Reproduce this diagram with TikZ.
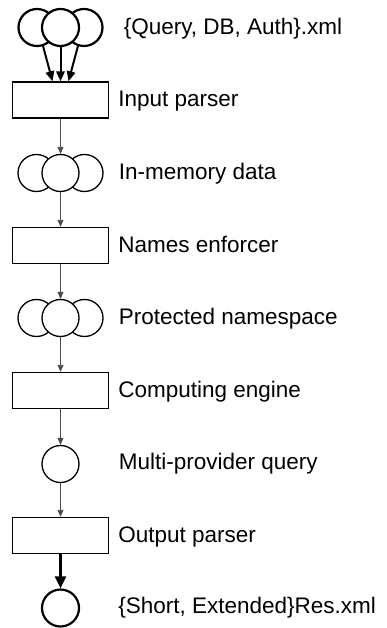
\documentclass[tikz,border=0pt]{standalone}
\usepackage{fontspec}
\setmainfont{Liberation Sans}
\usetikzlibrary{arrows.meta,calc}
\begin{document}
\begin{tikzpicture}[x=1pt,y=-1pt,
  box/.style={draw,line width=1.4pt,minimum width=96pt,minimum height=36pt,inner sep=0pt},
  circ/.style={draw,fill=white,circle,line width=1.3pt,minimum size=37pt,inner sep=0pt},
  thickcirc/.style={circ,line width=2.2pt},
  lbl/.style={anchor=base west,inner sep=0pt,font=\fontsize{22.5}{27}\selectfont},
  thinarrow/.style={draw=black!70,line width=0.9pt,-{Triangle[length=7pt,width=6pt]}},
  boldarrow/.style={draw=black,line width=2pt,-{Triangle[length=10pt,width=8.5pt]}},
  heavyarrow/.style={draw=black,line width=2.6pt,-{Triangle[length=12pt,width=11pt]}}
]
\useasboundingbox (0,0) rectangle (386,628);

% top triple circles
\node[thickcirc] (q1) at (37,27.5) {};
\node[thickcirc] (q3) at (84,27.5) {};
\node[thickcirc] (q2) at (60.5,27.5) {};
\node[box] (b1) at (60.5,100) {};
\node[circ] (m1) at (36.5,173) {};
\node[circ] (m3) at (84.5,173) {};
\node[circ] (m2) at (60.5,173) {};
\node[box] (b2) at (60.5,245.5) {};
\node[circ] (p1) at (36.5,318) {};
\node[circ] (p3) at (84.5,318) {};
\node[circ] (p2) at (60.5,318) {};
\node[box] (b3) at (60.5,390.5) {};
\node[circ] (mp) at (60.5,464) {};
\node[box] (b4) at (60.5,535.5) {};
\node[thickcirc] (res) at (60.5,608) {};

% labels
\node[lbl] (t1) at ($(q3.east)+(20,7)$) {\{Query, DB, Auth\}.xml};
\node[lbl] (t2) at ($(b1.east)+(9,6.5)$) {Input parser};
\node[lbl] (t3) at ($(m3.east)+(15,6.5)$) {In-memory data};
\node[lbl] (t4) at ($(b2.east)+(9,6.5)$) {Names enforcer};
\node[lbl] (t5) at ($(p3.east)+(15,6.5)$) {Protected namespace};
\node[lbl] (t6) at ($(b3.east)+(9,6.5)$) {Computing engine};
\node[lbl] (t7) at ($(mp.east)+(39,5.5)$) {Multi-provider query};
\node[lbl] (t8) at ($(b4.east)+(9,6.5)$) {Output parser};
\node[lbl] (t9) at ($(res.east)+(38,5.5)$) {\{Short, Extended\}Res.xml};

% connectors
\draw[boldarrow] (q1.-72) -- ($(b1.north)+(-8,0)$);
\draw[boldarrow] (q2.south) -- (b1.north);
\draw[boldarrow] (q3.-108) -- ($(b1.north)+(8,0)$);
\draw[thinarrow] (b1.south) -- (m2.north);
\draw[thinarrow] (m2.south) -- (b2.north);
\draw[thinarrow] (b2.south) -- (p2.north);
\draw[thinarrow] (p2.south) -- (b3.north);
\draw[thinarrow] (b3.south) -- (mp.north);
\draw[thinarrow] (mp.south) -- (b4.north);
\draw[heavyarrow] (b4.south) -- (res.north);
\end{tikzpicture}
\end{document}
